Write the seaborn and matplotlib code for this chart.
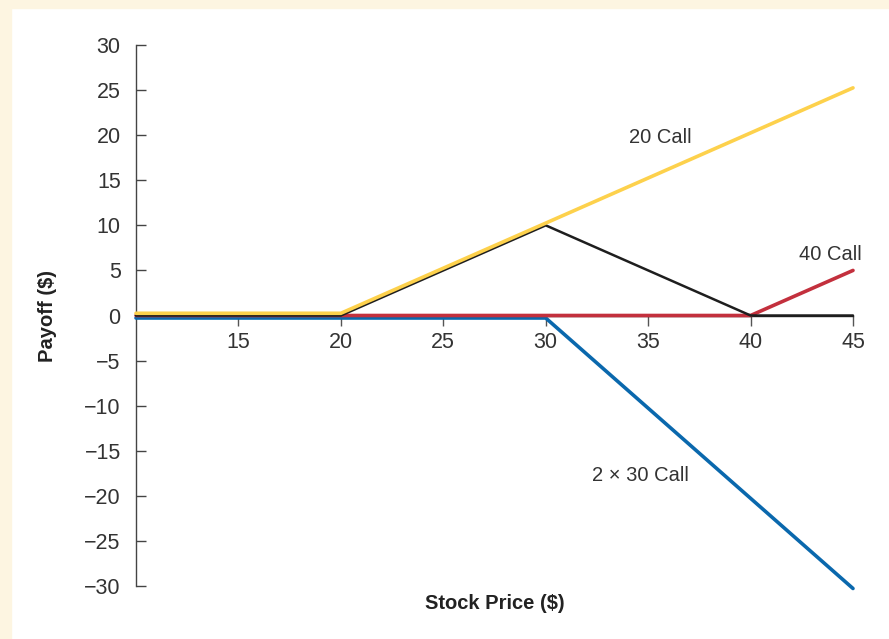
import pandas as pd
import matplotlib
matplotlib.use("Agg")
import matplotlib.pyplot as plt
import matplotlib.transforms as mtransforms
from matplotlib.patches import Rectangle
import seaborn as sns

# payoff breakpoints
stock_price = [10, 20, 30, 40, 45]
call_20 = [0, 0, 10, 20, 25]
call_40 = [0, 0, 0, 0, 5]
short_2x30 = [0, 0, 0, -20, -30]
position = [0, 0, 10, 0, 0]

x_ticks = [15, 20, 25, 30, 35, 40, 45]
y_ticks = list(range(-30, 31, 5))

labels = ["20 Call", "40 Call", "2 \u00d7 30 Call"]
label_xy = [(35.6, 19.7), (43.9, 6.8), (34.6, -17.8)]


def draw_series(ax, fig, y, color, lw, dy, z):
    """Draw one payoff line, nudged a few points vertically so the flat parts stay visible."""
    df = pd.DataFrame({"price": stock_price, "payoff": y})
    n_before = len(ax.lines)
    sns.lineplot(data=df, x="price", y="payoff", color=color, linewidth=lw, ax=ax)
    line = ax.lines[n_before]
    line.set_transform(ax.transData + mtransforms.ScaledTranslation(0, dy / 72, fig.dpi_scale_trans))
    line.set_zorder(z)
    line.set_clip_on(False)
    line.set_solid_joinstyle("miter")


def main():
    sns.set_style("ticks")
    plt.rcParams["font.family"] = ["Liberation Sans", "DejaVu Sans"]

    fig = plt.figure(figsize=(8.89, 6.39), dpi=100, facecolor="white")
    # cream frame at the top and left edge
    cream = "#fdf5e1"
    fig.patches.append(Rectangle((0, 0), 11 / 889, 1, transform=fig.transFigure, color=cream, zorder=0))
    fig.patches.append(Rectangle((0, 1 - 8 / 639), 1, 8 / 639, transform=fig.transFigure, color=cream, zorder=0))

    ax = fig.add_axes([136 / 889, 1 - 586 / 639, (853 - 136) / 889, (586 - 45) / 639])
    ax.set_facecolor("none")

    draw_series(ax, fig, short_2x30, "#0a68ad", 2.6, -1.8, 3)
    draw_series(ax, fig, call_40, "#c3303d", 2.6, 0, 4)
    draw_series(ax, fig, position, "#1e1e1e", 1.8, 0, 5)
    draw_series(ax, fig, call_20, "#fdd14c", 2.6, 1.6, 6)

    ax.set_xlim(10, 45)
    ax.set_ylim(-30, 30)
    ax.set_xticks(x_ticks)
    ax.set_yticks(y_ticks)

    for side in ["top", "right"]:
        ax.spines[side].set_visible(False)
    ax.spines["bottom"].set_position(("data", 0))
    ax.spines["bottom"].set_color("#222222")
    ax.spines["left"].set_color("#444444")
    ax.spines["left"].set_linewidth(1.0)
    ax.spines["bottom"].set_linewidth(1.0)

    ax.tick_params(axis="y", left=True, direction="in", length=7, width=1, color="#444444",
                   labelsize=15.5, labelcolor="#333333", pad=11)
    ax.tick_params(axis="x", bottom=True, direction="out", length=7, width=1, color="#555555",
                   labelsize=15.5, labelcolor="#333333", pad=5)
    ax.set_xlabel("")
    ax.set_ylabel("")

    ax.text(0.5, -0.033, "Stock Price ($)", transform=ax.transAxes, ha="center", va="center",
            fontsize=14.5, fontweight="bold", color="#222222")
    ax.text(-0.123, 0.5, "Payoff ($)", transform=ax.transAxes, ha="center", va="center",
            rotation=90, fontsize=14.5, fontweight="bold", color="#222222")

    for txt, (tx, ty) in zip(labels, label_xy):
        ax.text(tx, ty, txt, ha="center", va="center", fontsize=14.5, color="#333333")

    fig.savefig("out.png", dpi=100, facecolor=fig.get_facecolor())
    plt.close(fig)


if __name__ == "__main__":
    main()
